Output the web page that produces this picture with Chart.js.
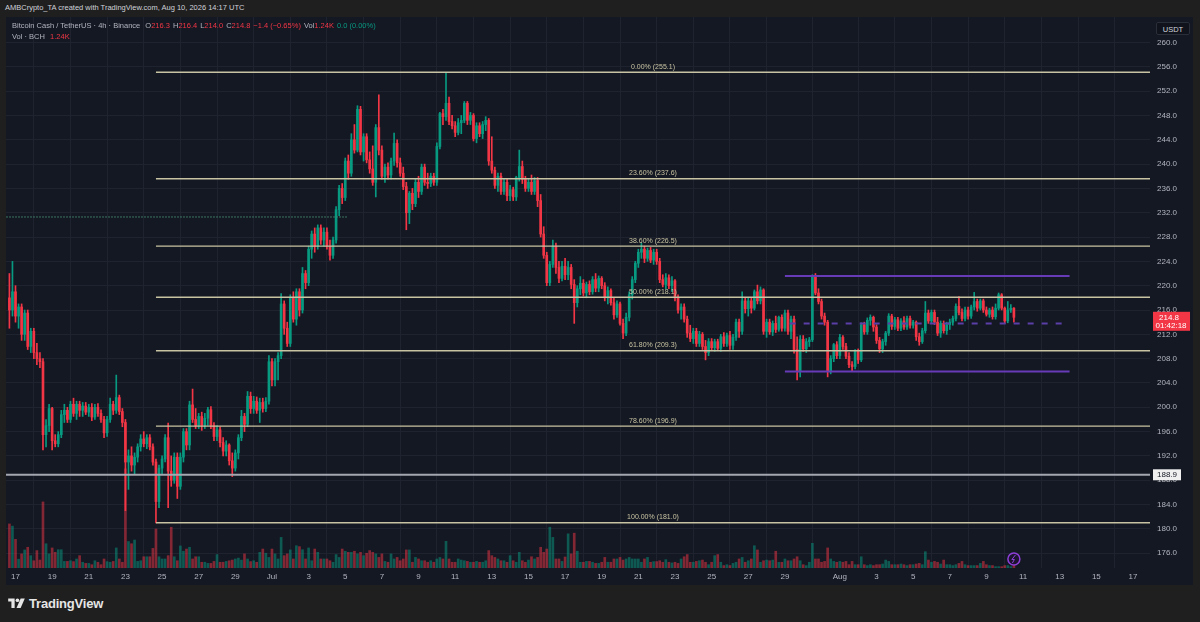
<!DOCTYPE html>
<html>
<head>
<meta charset="utf-8">
<title>BCH/USDT 4h</title>
<script src="https://cdn.jsdelivr.net/npm/chart.js@4.4.1/dist/chart.umd.min.js"></script>
<style>
  body { margin: 0; width: 1200px; height: 622px; background: #1f1f1f; overflow: hidden; position: relative;
         font-family: "Liberation Sans", Arial, sans-serif; }
  #credit { position: absolute; left: 5px; top: 3px; font-size: 7.5px; color: #cfd2d9; white-space: nowrap; }
  #panel { position: absolute; left: 6px; top: 17px; width: 1187px; height: 568px; background: #141823; }
  #legend { position: absolute; left: 12px; top: 20px; font-size: 7.5px; color: #b2b5be; line-height: 11px; white-space: nowrap; }
  #legend span { margin-right: 3px; }
  .r { color: #f23645; }
  .g { color: #089981; }
  #usdt { position: absolute; left: 1156px; top: 22px; width: 34px; height: 13px; line-height: 13px; text-align: center;
          font-size: 7.5px; color: #d1d4dc; background: #10131b; border: 1px solid #2a2e39; border-radius: 2px; box-sizing: border-box; }
  #brand { position: absolute; left: 8px; top: 595px; height: 16px; display: flex; align-items: center; color: #e6e6e6;
           font-size: 13px; font-weight: bold; letter-spacing: -0.2px; }
  #brand svg { margin-right: 4px; }
</style>
</head>
<body>
<div id="credit">AMBCrypto_TA created with TradingView.com, Aug 10, 2026 14:17 UTC</div>
<div id="panel"><canvas id="chart" width="1187" height="568"></canvas></div>
<div id="legend">
  <div><span>Bitcoin Cash / TetherUS · 4h · Binance</span>
    <span>O<b class="r" style="font-weight:normal">216.3</b></span><span>H<b class="r" style="font-weight:normal">216.4</b></span><span>L<b class="r" style="font-weight:normal">214.0</b></span><span>C<b class="r" style="font-weight:normal">214.8</b></span><span class="r">−1.4 (−0.65%)</span><span>Vol<b class="r" style="font-weight:normal">1.24K</b></span><span class="g">0.0 (0.00%)</span></div>
  <div><span>Vol · BCH</span> <span class="r">1.24K</span></div>
</div>
<div id="usdt">USDT</div>
<div id="brand"><svg width="17" height="12" viewBox="0 0 36 26"><path d="M14 24H7V10H0V3h14z" fill="#e6e6e6"/><circle cx="20" cy="7" r="4" fill="#e6e6e6"/><path d="M27 3h9l-9 21h-9z" fill="#e6e6e6"/></svg>TradingView</div>
<script>
// BCH/USDT 4h candles, first one Jun 16 16:00, last one Aug 10 12:00
// time axis unit: days since Jun 17 00:00
const firstT = -1 / 3
const stepT = 1 / 6

const opens = [218,216,
219,215,216.5,212,215.5,210,
212.5,209,208,207.5,195.5,197,
199.8,194.5,194,195.5,198.8,199.5,
198,200.5,199,200.5,199.5,200.2,
199.2,200,198.4,200,199,198,
195.8,198,200.5,199.5,201.6,199.3,
197.5,191,192,190.5,191.8,193.5,
194.8,194,195,193.5,191,184.5,
190,191.5,195,189.5,188,191.8,
187,191.8,196,193.8,200.4,198,
197,198.5,197,198.2,199.6,197,
195.2,196.3,194.2,192.8,193.8,191.2,
190,192.5,195,198.5,197.2,201.8,
199.8,201,199.5,200.8,199.8,201,
207.5,204.5,207.5,208.5,217,213,
210.5,218,214.5,219,216,222,
220.5,226,228.5,226.5,229.5,227.5,
228.8,226.5,225,227.5,232.5,236,
234.5,240.5,238.5,244,242.3,249,
242,244.5,240.7,239.2,237,246,
242.3,238,239.5,238.2,240.5,243.4,
240.2,238.5,236.3,232,235.2,233.5,
237,235.5,239.5,237,236.8,238,
237,242.9,248.3,247.8,250,247,
246.3,245.2,246.8,247.2,250,247.2,
248,244.2,246.3,245,246.5,247.2,
240.5,239,236.5,238,235.5,237,
234.8,235.8,234.6,237.8,239.6,237.5,
236,237,235.5,237.3,234,228.5,
225,220.5,223.5,226.5,223,221.2,
223.2,221.8,223,220.2,217.2,219.5,
220.4,218.8,220.2,219,221,219.6,
221.2,220,218,219.2,217.2,215.2,
217,213.8,212.2,214.8,218.5,221,
223.7,225.5,226,224.5,225.8,224.2,
225.5,224,221,220.2,221.3,220,
220.8,218,216,216.5,214.5,212.2,
211.3,212.5,210.5,212,210,209,
210.8,209.8,210.8,209.7,211.6,210.5,
211.8,210.2,211.5,214,212.5,217.5,
216.2,217.5,216.3,219,217.5,219.3,
212.5,214,212.4,213.8,212.8,214.8,
213,215.5,212.5,214.5,209.5,206,
211.2,209.6,210.8,211.1,221.5,218.8,
217.4,215,214,206,208,210.3,
208.5,211.5,210,208.4,207,206.7,
209.2,207.8,213.6,212.4,214.3,214.8,
213.2,211,209.6,210.8,212.2,215,
213.3,214.4,213,214.2,213.2,214.6,
213.5,214,211.6,210.8,212.6,215.5,
214.2,215.6,214,212.2,213.8,212.6,
213.6,214,214.6,216.6,215.6,214.6,
216,215,216.5,217.4,216.3,217.5,
216,215.3,216,214.9,216.3,218.5,
216.3,214.2,216,216.3]

const highs = [222,224,
220,217,217,216,216,213,
213,210.5,209,208,198,200.5,
200,195.5,196,199.5,200.5,200,
201,201.5,201,201,200.8,200.8,
200.5,200.6,200.5,200.6,199.6,198.5,
198.5,201.5,201,205.3,202,199.8,
198,193,193.5,192.5,194,195.5,
196,195.5,195.5,194,191.5,190.5,
192,195.5,197.4,192,192.5,192.5,
192.5,196.5,196.5,201,203,199.8,
199,199.2,199,200,200.1,197.5,
197,196.8,195,194.5,194,192.5,
193,195.5,199.5,199,202.6,202.5,
201.8,201.7,201.5,201.5,201.6,208.5,
208,208,209,218.7,217.5,214,
218.5,219,219.5,219.5,223,222.5,
226.5,229,229.5,230,230,229.5,
229.5,227.5,228,233,236.5,236.8,
241,241.5,245,246.5,249.6,249.5,
245,245,242,243,246.5,251.4,
243,240,240.2,241,245.1,244,
241,239.5,237,235.5,236,237.5,
238,240,240,238.5,238.5,238.5,
243.5,248.5,249,255.1,251,248,
247,247.5,248,250.3,250.3,248.5,
248.3,246.8,246.8,247,247.8,247.5,
244.5,239.5,238.5,238.5,237.5,237.5,
236.5,236.2,238,242.3,240.5,238,
237.5,238.2,237.8,237.8,235,229.7,
225.5,224,227.5,227,224,224,
224.5,224,223.5,221,220,221.5,
221,220.6,220.8,221.5,222,221.6,
221.5,220.5,219.8,219.5,218,217.5,
217.3,214.5,215.5,219,221.5,224,
226,227,226.5,226.2,226.3,226,
226,224.5,221.8,222,221.8,221.5,
221,218.5,217,217,215,213.5,
213,213,212.5,212.3,211,211.3,
211.3,211.2,211.2,212,212.3,212.2,
212.5,212,214.5,214.5,219,218,
218,218,219.3,220.1,219.8,219.5,
214.5,214.5,214.2,215,215,215.2,
216,216,215,215,211.6,211.8,
211.8,211.3,211.5,221.8,222,219.5,
217.8,215.5,214.3,208.5,210.5,210.8,
212,211.8,210.5,209,207.5,209.5,
209.6,213.9,214,214.7,215.2,215,
213.6,211.5,211.2,212.5,215.4,215.3,
214.8,214.8,214.6,214.9,215,215,
214.3,214.2,212.2,213,217.4,216,
216,216,214.8,214.2,214.2,214,
214.5,215,217,218.2,216.2,216.5,
216.5,216.8,218.9,217.8,217.8,217.8,
216.5,216.3,216.5,217,218.8,218.7,
216.5,217.4,216.9,216.4]

const lows = [213,215,
214,213,211,211,209.5,209,
208,207,206.5,193,193.5,196,
193,193.5,193.5,195,197.5,197.5,
197.5,198.5,198,198.5,198.5,198.8,
198.5,197.8,198,198.5,197.5,195,
195.2,197.5,198.8,199,198.8,196.8,
183,186.5,189.5,189,191,192.8,
193.5,193.2,193,190.5,181,183.5,
189,191,183.5,187,187.5,185,
186.5,191,193,193,197.5,196.5,
196.5,196.2,196.5,197,196.5,194.5,
194.5,193.5,192,192,190.5,188.6,
189.5,191.5,194.5,196,196.8,199,
199,199,197.5,199.2,199.3,200.5,
203.5,203.5,204.5,208,212,210,
210,214,213.5,215,215.5,219.5,
220,224.5,225.5,226,226.8,226.5,
226,224.2,224.5,227,231.5,233.5,
234,237.5,238,241.8,242,241.5,
240.5,240.2,238.5,236.5,234.6,241.5,
237.5,237,237.5,237.5,239.8,239.5,
238,235.8,229.2,230.2,232.5,233,
234.5,235,236.5,236,236.3,236.5,
236.5,242.5,246.5,247.2,246.5,245.8,
244.5,244.8,245,246.8,246.5,246.5,
243.8,243.5,244.5,244.2,245.5,239.8,
238.5,236,235.5,235,235,234,
234,234,234,237.2,236.8,235.5,
235.5,235,235,233,228,224.5,
220,220,223,222,220.5,220.8,
221,221,219.5,213.8,216.5,218.5,
218.3,218,218.5,218.6,219,219,
219.5,217.5,217,216.8,214.5,214.8,
213.5,211.3,211.8,214.2,217.8,220.5,
223,224.5,223.8,224,223.8,223.5,
223.5,220.5,219.8,219.5,219.5,219,
217.5,215.5,214.5,214,211.5,210.8,
210.5,210,210,209.5,207.8,208.5,
209.3,209.2,209.3,209.2,210,210,
209.5,209.5,211,211.5,212,215.5,
215,215.5,216,217,217,212,
211.5,212,211.8,212.3,212.5,212.5,
212.5,212,211.3,208.9,204.5,205,
209.2,209,210,210.8,218.5,217,
214.5,213.5,205,205.5,207.5,208,
208,209.5,208,206.5,206,206.3,
207.2,207.5,212,212,213.5,212.5,
210.5,209,209,210.2,211.8,212.8,
212.8,212.6,212.6,212.8,212.8,213,
213,211,210.2,210.5,212.2,213.8,
213.8,213.6,211.8,211.5,212.2,212,
212.8,213.5,214.2,215.2,214.2,214.2,
214.5,214.6,216,215.8,216,215.6,
215,214.8,214.5,214.5,216,216,
213.8,213.9,215.6,214]

const closes = [216,219,
215,216.5,212,215.5,210,212.5,
209,208,207.5,195.5,197,199.8,
194.5,194,195.5,198.8,199.5,198,
200.5,199,200.5,199.5,200.2,199.2,
200,198.4,200,199,198,195.8,
198,200.5,199.5,201.6,199.3,197.5,
191,192,190.5,191.8,193.5,194.8,
194,195,193.5,191,184.5,190,
191.5,195,189.5,188,191.8,187,
191.8,196,193.8,200.4,198,197,
198.5,197,198.2,199.6,197,195.2,
196.3,194.2,192.8,193.8,191.2,190,
192.5,195,198.5,197.2,201.8,199.8,
201,199.5,200.8,199.8,201,207.5,
204.5,207.5,208.5,217,213,210.5,
218,214.5,219,216,222,220.5,
226,228.5,226.5,229.5,227.5,228.8,
226.5,225,227.5,232.5,236,234.5,
240.5,238.5,244,242.3,249,242,
244.5,240.7,239.2,237,246,242.3,
238,239.5,238.2,240.5,243.4,240.2,
238.5,236.3,232,235.2,233.5,237,
235.5,239.5,237,236.8,238,237,
242.9,248.3,247.8,250,247,246.3,
245.2,246.8,247.2,250,247.2,248,
244.2,246.3,245,246.5,247.2,240.5,
239,236.5,238,235.5,237,234.8,
235.8,234.6,237.8,239.6,237.5,236,
237,235.5,237.3,234,228.5,225,
220.5,223.5,226.5,223,221.2,223.2,
221.8,223,220.2,217.2,219.5,220.4,
218.8,220.2,219,221,219.6,221.2,
220,218,219.2,217.2,215.2,217,
213.8,212.2,214.8,218.5,221,223.7,
225.5,226,224.5,225.8,224.2,225.5,
224,221,220.2,221.3,220,220.8,
218,216,216.5,214.5,212.2,211.3,
212.5,210.5,212,210,209,210.8,
209.8,210.8,209.7,211.6,210.5,211.8,
210.2,211.5,214,212.5,217.5,216.2,
217.5,216.3,219,217.5,219.3,212.5,
214,212.4,213.8,212.8,214.8,213,
215.5,212.5,214.5,209.5,206,211.2,
209.6,210.8,211.1,221.5,218.8,217.4,
215,214,206,208,210.3,208.5,
211.5,210,208.4,207,206.7,209.2,
207.8,213.6,212.4,214.3,214.8,213.2,
211,209.6,210.8,212.2,215,213.3,
214.4,213,214.2,213.2,214.6,213.5,
214,211.6,210.8,212.6,215.5,214.2,
215.6,214,212.2,213.8,212.6,213.6,
214,214.6,216.6,215.6,214.6,216,
215,216.5,217.4,216.3,217.5,216,
215.3,216,214.9,216.3,218.5,216.3,
214.2,216,216.3,214.8]

// volume in thousands of BCH
const volumes = [20,19,
13,4,6.4,8.2,9.4,5.6,
3.3,7.9,3.6,30,11,6.4,
9.1,7.1,8.3,8.3,3,3,
3.3,2.9,4.1,5.6,2.6,2.1,
2.1,1.5,3.3,2.6,1.5,4.1,
2.9,2.6,3,9.1,4.1,2.6,
45,12,11,12.7,3,3.3,
5.1,5.1,5.1,8.9,17.7,5.1,
4.1,4.1,5.6,18.5,5.1,3.3,
10,7.6,8.6,9.4,4.1,5.1,
5.1,2.6,2.6,2.1,2.1,3,
6.1,2.6,2.6,3,3.3,3.6,
4.1,4.5,3.6,6.4,4.1,2.9,
3.3,2.6,7.1,8.6,6.7,4.8,
8.6,6.4,4.1,13.9,5.6,6.4,
8.2,4.1,10.1,9.7,8.3,4.1,
9.1,3.3,8.6,7.1,4.1,4.1,
4.1,3.3,2.6,6.1,4.8,8.6,
7.6,7.1,7.1,7.6,6.4,7.1,
5.6,6.7,7.9,7.1,6.4,4.8,
6.4,3,2.6,6.4,4.1,4.8,
3.3,4.1,8.2,8.2,2.6,4.8,
4.1,3.3,3.3,2.6,3.3,2.6,
4.1,4.8,4.1,12.1,4.1,2.6,
2.6,4.1,3.6,3.3,3,2.6,
2.6,3,2.6,2.6,3.3,7.9,
5.6,4.8,4.1,3.3,3.3,2.6,
5.6,3.3,2.6,7.1,3.3,2.6,
3.6,5.1,4.1,4.8,9.4,7.1,
8.6,18.5,13.9,4.1,4.1,3,
5,15.5,6.4,15.8,7.6,2.6,
2.6,3,3,2.6,2.1,2.1,
2.6,4.8,2.6,2.6,4.1,4.1,
4.8,3.6,4.1,4.8,4.1,4.1,
4.1,2.6,4.1,4.8,2.6,2.9,
2.9,3.3,2.6,3.8,2.6,2.3,
2.6,2.1,4.1,5.1,6.1,2.6,
2.6,3,3.3,3.6,2.6,1.5,
2.6,5.6,6.1,2.6,1.1,1.5,
1.1,2.1,2.6,4.1,4.8,2.6,
3.3,4.1,10.1,8.2,2.6,3.3,
3.6,3.3,3.6,7.6,2.6,2.6,
4.1,3.3,3.3,4.1,5.1,3.3,
1.5,1.1,2.6,11.2,4.1,4.1,
2.6,3,9.1,4.1,3,2.6,
3,2.6,3,1.5,3,1.5,
1.5,5.1,1.5,1.1,1.5,1.1,
1.5,1.5,1.8,3.6,3,1.5,
1.5,1.5,1.8,1.5,1.1,1.5,
1.5,1.8,2.1,1.5,7.4,3.6,
2.6,3,2.6,1.8,3.6,1.5,
1.5,1.1,1.5,2.1,3,1.5,
1.1,1.1,1.1,1.1,2.1,3,
1.5,1.1,1.1,0.6,0.6,0.6,
1.1,1.1,0.6,1.24]

// axis ticks
const tickDays = [0,2,4,6,8,10,12,14,16,18,20,22,24,26,28,30,32,34,36,38,40,42,45,47,49,51,53,55,57,59,61]
const tickLabels = ['17','19','21','23','25','27','29','Jul','3','5','7','9','11','13','15','17','19','21','23','25','27','29','Aug','3','5','7','9','11','13','15','17']
const priceTicks = [176,180,184,188,192,196,200,204,208,212,216,220,224,228,232,236,240,244,248,252,256,260]

// drawings
const fibPct = ['0.00%','23.60%','38.60%','50.00%','61.80%','78.60%','100.00%']
const fibVal = [255.1,237.6,226.5,218.1,209.3,196.9,181.0]
const fibStart = 7.667
const rangeTop = 221.6
const rangeBottom = 205.9
const rangeMid = 213.8
const rangeStart = 42, rangeEnd = 57.54
const midStart = 42.26, midEnd = 57.16
const oldLevel = 231.3, oldLevelEnd = 18.15
const support = 188.9
const lastPrice = 214.8
const countdown = '01:42:18'

const xMin = -0.519, xMax = 61.93
const yMin = 173.57, yMax = 264.19

const UP = '#089981', DOWN = '#f23645'
const UP_VOL = 'rgba(8,153,129,0.5)', DOWN_VOL = 'rgba(242,54,69,0.5)'
const FIB = '#c8c3a2'
const PURPLE = '#673ab7'
const TEXT = '#b2b5be'
const GRID = '#1f2330'
const FONT = '"Liberation Sans", Arial, sans-serif'

const times = closes.map((c, i) => firstT + i * stepT)
const isUp = closes.map((c, i) => c >= opens[i])

function hline(x0, x1, v, color, width, dash) {
    return {
        type: 'line',
        data: [{ x: x0, y: v }, { x: x1, y: v }],
        borderColor: color,
        borderWidth: width,
        borderDash: dash || [],
        pointRadius: 0,
        order: 1
    }
}

const lineSets = fibVal.map(v => hline(fibStart, xMax, v, FIB, 1.4))
lineSets.push(hline(xMin, xMax, support, '#a4a7b0', 2))
lineSets.push(hline(xMin, oldLevelEnd, oldLevel, 'rgba(70,140,115,0.8)', 1, [2, 1]))
lineSets.push(hline(rangeStart, rangeEnd, rangeTop, PURPLE, 2))
lineSets.push(hline(rangeStart, rangeEnd, rangeBottom, PURPLE, 2))
lineSets.push(hline(midStart, midEnd, rangeMid, '#5b3ea8', 2, [6, 8]))

const overlay = {
    id: 'overlay',
    afterDatasetsDraw(chart) {
        const { ctx, scales: { x, y } } = chart
        ctx.save()
        ctx.font = '7px ' + FONT
        ctx.fillStyle = FIB
        ctx.textAlign = 'center'
        ctx.textBaseline = 'bottom'
        const cx = (x.getPixelForValue(fibStart) + x.getPixelForValue(xMax)) / 2
        fibPct.forEach((p, i) => {
            ctx.fillText(p + ' (' + fibVal[i].toFixed(1) + ')', cx, y.getPixelForValue(fibVal[i]) - 2)
        })
        ctx.restore()
    },
    afterDraw(chart) {
        const { ctx, chartArea: a, scales: { x, y } } = chart
        ctx.save()
        ctx.font = '8px ' + FONT
        ctx.textAlign = 'center'
        ctx.textBaseline = 'middle'

        // support label
        const sy = y.getPixelForValue(support)
        ctx.fillStyle = '#f0f0f0'
        ctx.fillRect(a.right + 3, sy - 5.5, 28, 11)
        ctx.fillStyle = '#131722'
        ctx.fillText(support.toFixed(1), a.right + 17, sy + 0.5)

        // last price + countdown
        const py = y.getPixelForValue(lastPrice)
        ctx.fillStyle = DOWN
        ctx.fillRect(a.right + 3, py - 5.5, 37, 19)
        ctx.fillStyle = '#ffffff'
        ctx.fillText(lastPrice.toFixed(1), a.right + 19, py)
        ctx.fillText(countdown, a.right + 21, py + 8.5)

        // events marker
        const ex = x.getPixelForValue(times[times.length - 1])
        const ey = a.bottom - 9
        ctx.beginPath()
        ctx.arc(ex, ey, 6, 0, Math.PI * 2)
        ctx.fillStyle = '#1d1530'
        ctx.fill()
        ctx.lineWidth = 1.5
        ctx.strokeStyle = '#8e3fd8'
        ctx.stroke()
        ctx.beginPath()
        ctx.moveTo(ex + 1.5, ey - 4)
        ctx.lineTo(ex - 2, ey + 0.5)
        ctx.lineTo(ex + 0.5, ey + 0.5)
        ctx.lineTo(ex - 1.5, ey + 4)
        ctx.lineWidth = 1
        ctx.stroke()
        ctx.restore()
    }
}

new Chart(document.getElementById('chart'), {
    type: 'bar',
    data: {
        datasets: [
            {
                label: 'Vol',
                yAxisID: 'yv',
                data: times.map((t, i) => ({ x: t, y: volumes[i] })),
                backgroundColor: isUp.map(u => u ? UP_VOL : DOWN_VOL),
                barThickness: 2,
                grouped: false,
                order: 10
            },
            {
                label: 'wick',
                data: times.map((t, i) => ({ x: t, y: [lows[i], highs[i]] })),
                backgroundColor: isUp.map(u => u ? UP : DOWN),
                barThickness: 1,
                grouped: false,
                order: 3
            },
            {
                label: 'body',
                data: times.map((t, i) => ({ x: t, y: [opens[i], closes[i]] })),
                backgroundColor: isUp.map(u => u ? UP : DOWN),
                barThickness: 2,
                minBarLength: 1,
                grouped: false,
                order: 2
            },
            ...lineSets
        ]
    },
    options: {
        responsive: false,
        animation: false,
        events: [],
        layout: { padding: 0 },
        plugins: { legend: { display: false }, tooltip: { enabled: false } },
        scales: {
            x: {
                type: 'linear',
                min: xMin,
                max: xMax,
                offset: false,
                afterBuildTicks: s => { s.ticks = tickDays.map(v => ({ value: v })) },
                afterFit: s => { s.height = 17; s.paddingLeft = 0; s.paddingRight = 0 },
                ticks: {
                    autoSkip: false,
                    maxRotation: 0,
                    padding: 4,
                    color: TEXT,
                    font: { size: 8, family: FONT },
                    callback: (v, i) => tickLabels[i]
                },
                grid: { color: GRID, drawTicks: false },
                border: { display: false }
            },
            y: {
                position: 'right',
                min: yMin,
                max: yMax,
                afterBuildTicks: s => { s.ticks = priceTicks.map(v => ({ value: v })) },
                afterFit: s => { s.width = 43; s.paddingTop = 0; s.paddingBottom = 0 },
                ticks: {
                    padding: 7,
                    color: TEXT,
                    font: { size: 8, family: FONT },
                    callback: v => v.toFixed(1)
                },
                grid: { color: GRID, drawTicks: false },
                border: { display: false }
            },
            yv: {
                display: false,
                min: 0,
                max: 250
            }
        }
    },
    plugins: [overlay]
})
</script>
</body>
</html>
